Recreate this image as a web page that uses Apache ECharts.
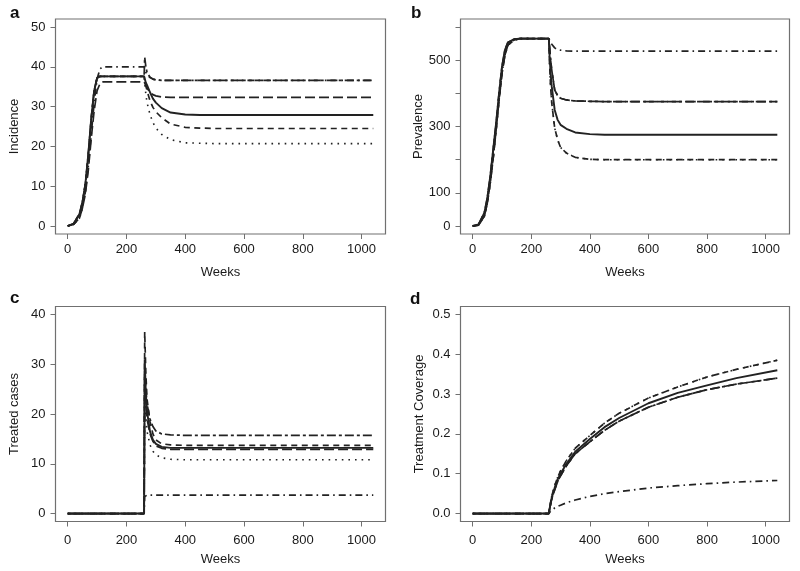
<!DOCTYPE html>
<html>
<head>
<meta charset="utf-8">
<script src="https://cdn.jsdelivr.net/npm/echarts@6/dist/echarts.min.js"></script>
<style>html,body{margin:0;padding:0;background:#fff}#c{width:800px;height:571px}</style>
</head>
<body>
<div id="c"></div>
<script>
// Weeks (x values shared by all panels)
var weeks = [0,20,40,50,60,70,80,90,100,110,120,140,160,200,260,262,266,270,280,290,300,320,350,400,450,500,600,700,800,900,1040];
var xTicks = [0,200,400,600,800,1000];

// Panel a: Incidence
var incSolid    = [0,0.6,3,6,10.5,18,27,34,37.2,37.6,37.6,37.6,37.6,37.6,37.6,37.0,36.0,35.4,33.6,32.0,31.0,29.6,28.5,28.0,27.9,27.9,27.9,27.9,27.9,27.9,27.9];
var incDashed   = [0,0.6,3,6,10.5,18,27,34,37.2,37.6,37.6,37.6,37.6,37.6,37.6,36.8,35.2,34.0,31.5,29.8,28.7,27.2,25.6,24.8,24.6,24.5,24.5,24.5,24.5,24.5,24.5];
var incDotted   = [0,0.6,3,6,10.5,18,27,34,37.2,37.6,37.6,37.6,37.6,37.6,37.6,36.0,33.0,31.0,28.0,26.0,24.6,23.0,21.7,20.9,20.8,20.7,20.7,20.7,20.7,20.7,20.7];
var incDotdash  = [0,0.4,2,4.5,8.5,15,23,31,37,39.5,40,40,40,40,40,39.5,38.6,38.0,37.3,36.9,36.7,36.6,36.6,36.6,36.6,36.6,36.6,36.6,36.6,36.6,36.6];
var incLongdash = [0,0.4,2,4.5,8,14,22,29,34,35.8,36.2,36.2,36.2,36.2,36.2,36.0,35.3,34.6,33.6,33.0,32.7,32.4,32.3,32.3,32.3,32.3,32.3,32.3,32.3,32.3,32.3];
var incTwodash  = [0,0.6,3,6,10.5,18,27,34,37.2,37.6,37.6,37.6,37.6,37.6,37.6,42.4,40.0,38.6,37.4,36.9,36.7,36.6,36.6,36.6,36.6,36.6,36.6,36.6,36.6,36.6,36.6];
var incTicks = [0,10,20,30,40,50];

// Panel b: Prevalence
var prevSolid    = [0,5,40,85,150,230,310,400,480,530,553,563,565,565,565,520,460,420,350,320,305,293,282,277,275,275,275,275,275,275,275];
var prevDashed   = [0,3,30,70,130,205,290,380,460,515,545,560,565,565,565,500,420,370,295,260,237,220,207,201,200,200,200,200,200,200,200];
var prevDotted   = [0,5,40,85,150,230,310,400,480,530,553,563,565,565,565,500,420,370,295,260,237,220,207,201,200,200,200,200,200,200,200];
var prevDotdash  = [0,3,30,70,130,205,290,380,460,515,545,560,565,565,565,563,555,548,537,532,530,528,527,527,527,527,527,527,527,527,527];
var prevLongdash = [0,3,30,70,130,205,290,380,460,515,545,560,565,565,565,545,500,470,410,393,385,380,377,376,375,375,375,375,375,375,375];
var prevTwodash  = [0,5,40,85,150,230,310,400,480,530,553,563,565,565,565,545,500,470,410,393,385,380,377,376,375,375,375,375,375,375,375];
var prevTicks = [0,100,200,300,400,500,600];
var prevLabels = [0,100,300,500];

// Panel c: Treated cases
var trSolid    = [0,0,0,0,0,0,0,0,0,0,0,0,0,0,0,31,24,20.5,16.5,14.8,14.0,13.4,13.2,13.2,13.2,13.2,13.2,13.2,13.2,13.2,13.2];
var trDashed   = [0,0,0,0,0,0,0,0,0,0,0,0,0,0,0,36.5,28,23,18.5,16,14.8,14.0,13.8,13.7,13.7,13.7,13.7,13.7,13.7,13.7,13.7];
var trDotted   = [0,0,0,0,0,0,0,0,0,0,0,0,0,0,0,25,19.5,16.5,13.8,12.5,11.8,11.2,10.9,10.8,10.8,10.8,10.8,10.8,10.8,10.8,10.8];
var trDotdash  = [0,0,0,0,0,0,0,0,0,0,0,0,0,0,0,3.4,3.6,3.7,3.7,3.7,3.7,3.7,3.7,3.7,3.7,3.7,3.7,3.7,3.7,3.7,3.7];
var trLongdash = [0,0,0,0,0,0,0,0,0,0,0,0,0,0,0,27,22,19,16,14.5,13.6,13.1,12.9,12.9,12.9,12.9,12.9,12.9,12.9,12.9,12.9];
var trTwodash  = [0,0,0,0,0,0,0,0,0,0,0,0,0,0,0,29,25,22,19,17.5,16.6,16.0,15.8,15.7,15.7,15.7,15.7,15.7,15.7,15.7,15.7];
var trTicks = [0,10,20,30,40];

// Panel d: Treatment coverage
var covSolid    = [0,0,0,0,0,0,0,0,0,0,0,0,0,0,0,0.010,0.025,0.040,0.065,0.085,0.100,0.125,0.155,0.187,0.217,0.240,0.277,0.303,0.322,0.340,0.360];
var covDashed   = [0,0,0,0,0,0,0,0,0,0,0,0,0,0,0,0.011,0.028,0.044,0.070,0.091,0.107,0.133,0.164,0.196,0.227,0.252,0.290,0.318,0.343,0.362,0.385];
var covDotted   = [0,0,0,0,0,0,0,0,0,0,0,0,0,0,0,0.011,0.028,0.044,0.070,0.091,0.107,0.133,0.164,0.196,0.227,0.252,0.290,0.318,0.343,0.362,0.385];
var covDotdash  = [0,0,0,0,0,0,0,0,0,0,0,0,0,0,0,0.002,0.006,0.009,0.014,0.018,0.021,0.027,0.034,0.043,0.050,0.055,0.064,0.070,0.075,0.079,0.083];
var covLongdash = [0,0,0,0,0,0,0,0,0,0,0,0,0,0,0,0.009,0.023,0.037,0.060,0.080,0.095,0.120,0.150,0.180,0.209,0.232,0.267,0.292,0.311,0.325,0.340];
var covTwodash  = [0,0,0,0,0,0,0,0,0,0,0,0,0,0,0,0.009,0.023,0.037,0.060,0.080,0.095,0.120,0.150,0.180,0.209,0.232,0.267,0.292,0.311,0.325,0.340];
var covTicks = [0,0.1,0.2,0.3,0.4,0.5];

var FONT = '"Liberation Sans", Arial, Helvetica, sans-serif';
var INK = '#1a1a1a';
var BOX = '#707070';
var LINE = '#222';
var FS = 13;
var styles = {
  solid:    {type:'solid', width:1.9},
  dashed:   {type:[6,4.5], width:1.7},
  dotted:   {type:[1.6,5], width:1.6},
  dotdash:  {type:[1.6,4,7,4], width:1.7},
  longdash: {type:[10,4], width:1.7},
  twodash:  {type:[3,3,9,3], width:1.7}
};

var grids = [
  {left:55.5, top:19, width:330, height:215},
  {left:460.5, top:19, width:329, height:215},
  {left:55.5, top:306.5, width:330, height:215},
  {left:460.5, top:306.5, width:329, height:215}
].map(function(g){ return Object.assign({show:true, borderColor:BOX, borderWidth:1.2, backgroundColor:'transparent'}, g); });

function xAxis(i){
  var bottomRow = i >= 2;
  return {type:'value', gridIndex:i, min:-41.6, max:1081.6, name:'Weeks', nameLocation:'middle', nameGap: bottomRow ? 31 : 32,
    nameTextStyle:{color:INK, fontSize:FS, fontFamily:FONT},
    axisLine:{show:false, onZero:false}, splitLine:{show:false},
    axisTick:{show:true, length:5, lineStyle:{color:BOX}, customValues:xTicks},
    axisLabel:{color:INK, fontSize:FS, fontFamily:FONT, margin: bottomRow ? 12 : 9, customValues:xTicks, formatter:function(v){ return String(v); }}};
}
function yAxis(i, name, min, max, ticks, labels, fmt){
  return {type:'value', gridIndex:i, min:min, max:max, name:name, nameLocation:'middle', nameGap:35, nameRotate:90,
    nameTextStyle:{color:INK, fontSize:FS, fontFamily:FONT},
    axisLine:{show:false, onZero:false}, splitLine:{show:false},
    axisTick:{show:true, length:5, lineStyle:{color:BOX}, customValues:ticks},
    axisLabel:{color:INK, fontSize:FS, fontFamily:FONT, margin:10, customValues:labels||ticks, formatter:fmt || function(v){ return String(v); }}};
}

function mk(i, arr, st){
  return {type:'line', xAxisIndex:i, yAxisIndex:i, showSymbol:false, symbol:'none', silent:true, animation:false,
    lineStyle:{color:LINE, width:styles[st].width, type:styles[st].type},
    data: weeks.map(function(w,k){ return [w, arr[k]]; })};
}

var panels = [
  [incDotted,'dotted'],[incDashed,'dashed'],[incLongdash,'longdash'],[incDotdash,'dotdash'],[incTwodash,'twodash'],[incSolid,'solid'],
  [prevDotted,'dotted'],[prevDashed,'dashed'],[prevLongdash,'longdash'],[prevDotdash,'dotdash'],[prevTwodash,'twodash'],[prevSolid,'solid'],
  [trDotted,'dotted'],[trDashed,'dashed'],[trLongdash,'longdash'],[trDotdash,'dotdash'],[trTwodash,'twodash'],[trSolid,'solid'],
  [covDotted,'dotted'],[covDashed,'dashed'],[covLongdash,'longdash'],[covDotdash,'dotdash'],[covTwodash,'twodash'],[covSolid,'solid']
];
var series = panels.map(function(p, idx){ return mk(Math.floor(idx/6), p[0], p[1]); });

function letter(t, x, y){
  return {type:'text', x:x, y:y, style:{text:t, fill:'#111', font:'bold 17px ' + FONT, verticalAlign:'middle'}};
}

var option = {
  animation:false,
  backgroundColor:'#fff',
  grid: grids,
  xAxis: [xAxis(0), xAxis(1), xAxis(2), xAxis(3)],
  yAxis: [
    yAxis(0, 'Incidence', -2, 52, incTicks),
    yAxis(1, 'Prevalence', -24, 624, prevTicks, prevLabels),
    yAxis(2, 'Treated cases', -1.6, 41.6, trTicks),
    yAxis(3, 'Treatment Coverage', -0.02, 0.52, covTicks, null, function(v){ return v.toFixed(1); })
  ],
  series: series,
  graphic: [letter('a', 10, 13), letter('b', 411, 13), letter('c', 10, 298.5), letter('d', 410, 299.5)]
};
echarts.init(document.getElementById('c'), null, {renderer:'canvas'}).setOption(option);
</script>
</body>
</html>
